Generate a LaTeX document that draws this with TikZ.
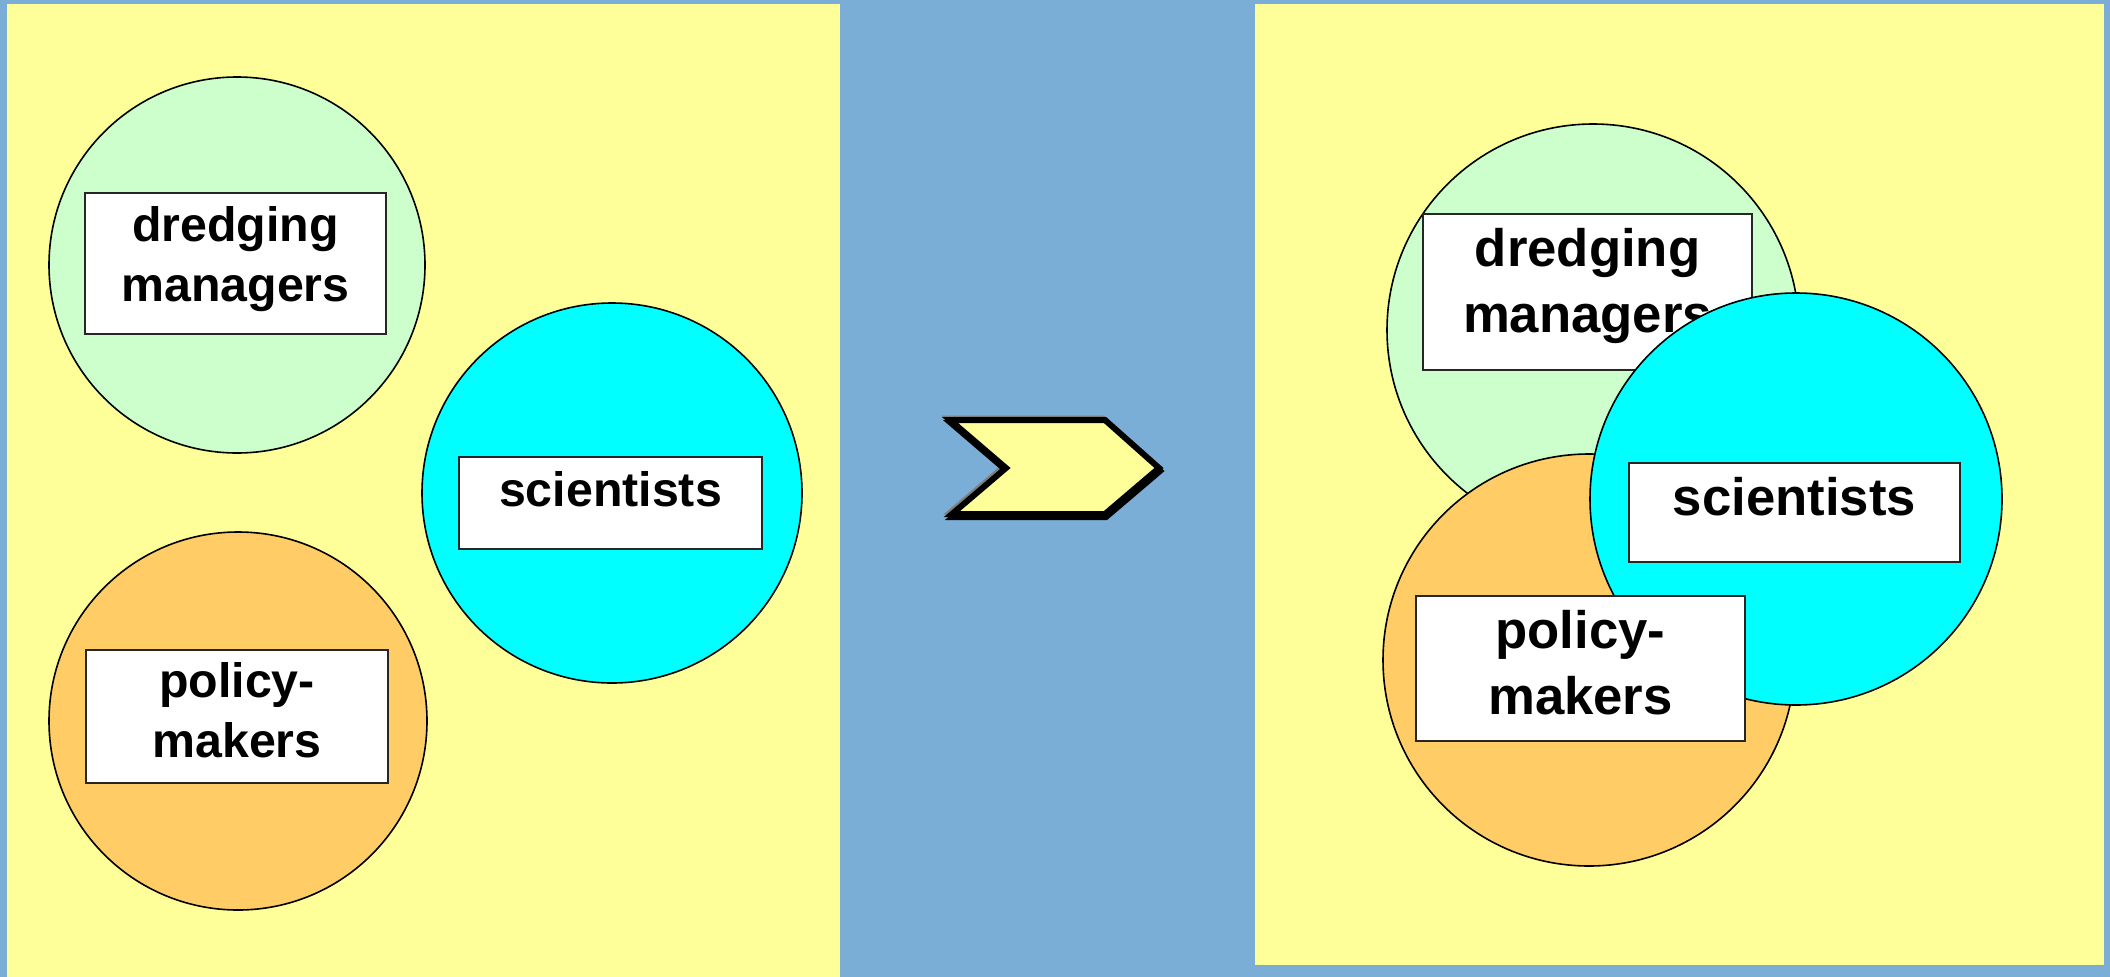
\documentclass[tikz,border=0pt]{standalone}
\usepackage{fontspec}
\setmainfont{Liberation Sans}
\usetikzlibrary{positioning}

\definecolor{achtergrond}{HTML}{7AAED6}
\definecolor{paneel}{HTML}{FFFF99}
\definecolor{groen}{HTML}{CCFFCC}
\definecolor{oranje}{HTML}{FFCC66}
\definecolor{cyaan}{HTML}{00FFFF}

\tikzset{
  bol/.style={circle, draw=black, line width=1.6pt, inner sep=0pt},
  kader/.style={rectangle, draw=black!85, line width=1.6pt, fill=white, inner sep=0pt},
  tekstL/.style={inner sep=0pt, align=center, font=\bfseries\fontsize{48.3}{60}\selectfont},
  tekstR/.style={inner sep=0pt, align=center, font=\bfseries\fontsize{52.7}{66}\selectfont}
}

\begin{document}
\begin{tikzpicture}[x=1pt, y=-1pt]
    % Achtergrond en panelen
    \fill[achtergrond] (0,0) rectangle (2110,977);
    \useasboundingbox (0,0) rectangle (2110,977);
    \fill[paneel] (7,4) rectangle (840,977);
    \fill[paneel] (1255,4) rectangle (2104,965);

    % Links: drie losse groepen
    \node[bol, fill=groen, minimum size=376pt] (dmL) at (237,265) {};
    \node[kader, minimum width=301pt, minimum height=141pt] (dmkaderL) at (235.5,263.5) {};
    \node[tekstL, below=14pt of dmkaderL.north] (dmtekstL) {dredging\\managers};

    \node[bol, fill=cyaan, minimum size=380pt] (wsL) at (612,493) {};
    \node[kader, minimum width=303pt, minimum height=92pt] (wskaderL) at (610.5,503) {};
    \node[tekstL, below=15pt of wskaderL.north] (wstekstL) {scientists};

    \node[bol, fill=oranje, minimum size=378pt] (bmL) at (238,721) {};
    \node[kader, minimum width=302pt, minimum height=133pt] (bmkaderL) at (237,716.5) {};
    \node[tekstL, below=13pt of bmkaderL.north] (bmtekstL) {policy-\\makers};

    % Pijl in het midden
    \draw[gray, line width=5pt, line join=miter, shift={(-2,-2)}]
      (950,420) -- (1105,420) -- (1159,468) -- (1105,514) -- (952,514) -- (1006,468) -- cycle;
    \draw[black, line width=6pt, line join=miter, shift={(1,3)}]
      (950,420) -- (1105,420) -- (1159,468) -- (1105,514) -- (952,514) -- (1006,468) -- cycle;
    \draw[black, fill=paneel, line width=6pt, line join=miter]
      (950,420) -- (1105,420) -- (1159,468) -- (1105,514) -- (952,514) -- (1006,468) -- cycle;

    % Rechts: overlappende groepen
    \node[bol, fill=groen, minimum size=412pt] (dmR) at (1593,330) {};
    \node[kader, minimum width=329pt, minimum height=156pt] (dmkaderR) at (1587.5,292) {};
    \node[tekstR, below=15pt of dmkaderR.north] (dmtekstR) {dredging\\managers};

    \node[bol, fill=oranje, minimum size=412pt] (bmR) at (1589,660) {};
    \node[bol, fill=cyaan, minimum size=412pt] (wsR) at (1796,499) {};
    \node[kader, minimum width=331pt, minimum height=99pt] (wskaderR) at (1794.5,512.5) {};
    \node[tekstR, below=15pt of wskaderR.north] (wstekstR) {scientists};

    \node[kader, minimum width=329pt, minimum height=145pt] (bmkaderR) at (1580.5,668.5) {};
    \node[tekstR, below=15pt of bmkaderR.north] (bmtekstR) {policy-\\makers};
\end{tikzpicture}
\end{document}
